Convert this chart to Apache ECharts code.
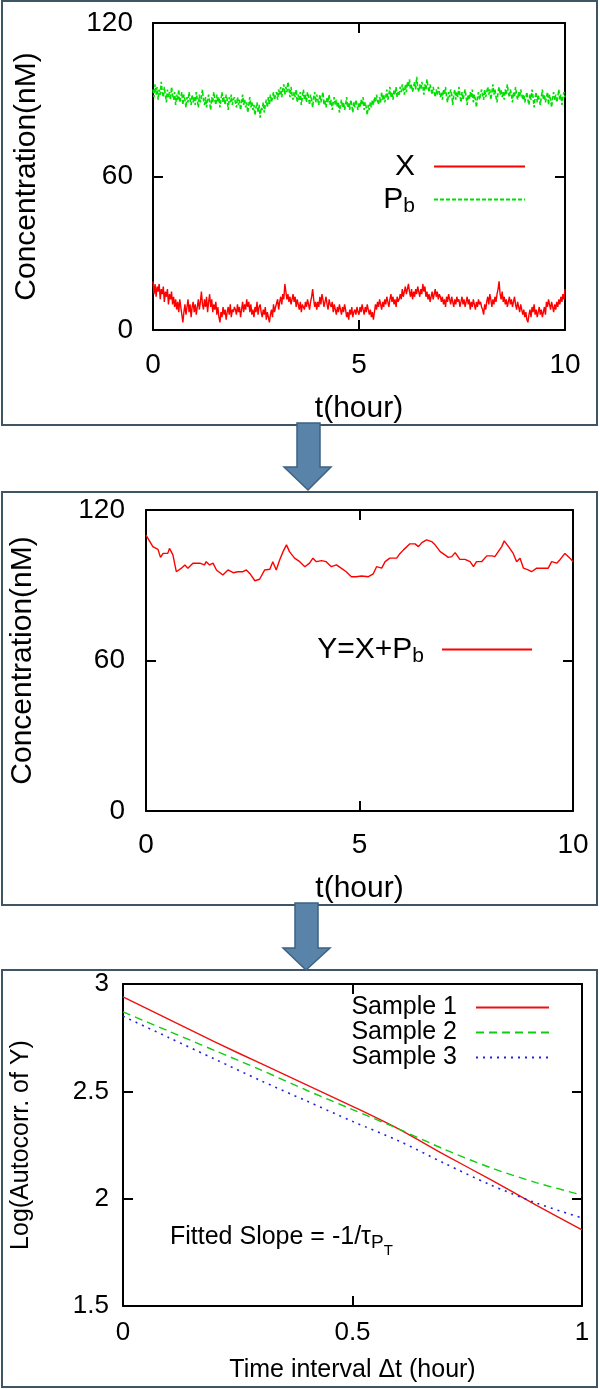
<!DOCTYPE html>
<html>
<head>
<meta charset="utf-8">
<title>Concentration and autocorrelation of Y</title>
<script src="https://cdn.jsdelivr.net/npm/echarts@6/dist/echarts.min.js"></script>
<style>
	html, body { margin: 0; padding: 0; background: #ffffff; }
	#main { width: 600px; height: 1389px; }
</style>
</head>
<body>
<div id="main"></div>
<script>
	// panel 1: X and Pb, one sample every 0.025 hour from 0 to 10 (one row per hour)
	var sampleStep = 0.025;
	var xValues = [
		19, 14, 18, 13, 17, 15, 18, 12, 16, 14, 17, 11, 15, 13, 16, 10, 14, 12, 15, 10, 13, 9, 12, 8, 11, 7, 12, 9, 6, 3, 7, 10, 6, 9, 12, 7, 10, 5, 9, 11,
		7, 10, 6, 9, 12, 8, 11, 15, 10, 8, 12, 9, 13, 7, 11, 14, 9, 12, 7, 10, 8, 11, 6, 9, 5, 3, 7, 5, 9, 6, 8, 4, 7, 9, 6, 10, 5, 8, 7, 9,
		8, 6, 10, 7, 9, 5, 8, 11, 7, 10, 8, 12, 9, 11, 7, 10, 6, 8, 5, 9, 7, 11, 6, 9, 10, 7, 5, 8, 6, 9, 4, 7, 5, 3, 6, 8, 5, 10, 7, 9,
		9, 12, 8, 11, 13, 10, 14, 12, 18, 15, 12, 14, 11, 13, 10, 12, 14, 11, 13, 9, 12, 10, 8, 11, 7, 10, 9, 8, 11, 9, 12, 10, 8, 11, 13, 16, 12, 9, 11, 8,
		11, 9, 13, 10, 14, 12, 9, 11, 13, 10, 8, 12, 10, 9, 11, 7, 10, 8, 6, 9, 7, 10, 8, 6, 9, 7, 10, 8, 5, 7, 4, 8, 6, 9, 5, 7, 8, 6, 9, 7,
		6, 9, 7, 10, 8, 6, 9, 7, 10, 8, 6, 8, 5, 7, 4, 7, 10, 8, 11, 9, 12, 10, 8, 11, 9, 12, 10, 13, 11, 9, 12, 14, 11, 13, 10, 12, 9, 13, 11, 12,
		14, 12, 16, 13, 15, 17, 14, 16, 18, 15, 13, 16, 12, 15, 13, 16, 14, 17, 15, 13, 16, 14, 18, 15, 17, 13, 15, 12, 14, 11, 13, 15, 12, 14, 16, 13, 15, 12, 14, 13,
		11, 13, 10, 12, 9, 13, 11, 14, 12, 10, 13, 11, 9, 12, 10, 13, 11, 12, 9, 11, 13, 10, 12, 9, 11, 13, 10, 12, 8, 11, 9, 12, 10, 8, 11, 9, 12, 10, 11, 9,
		8, 6, 10, 8, 11, 13, 10, 14, 12, 9, 12, 10, 13, 11, 14, 16, 19, 14, 12, 15, 11, 13, 10, 12, 9, 11, 13, 10, 12, 9, 11, 13, 10, 8, 11, 9, 7, 10, 8, 6,
		8, 5, 7, 4, 3, 6, 8, 5, 9, 7, 10, 6, 8, 5, 7, 9, 6, 8, 5, 7, 9, 6, 11, 9, 12, 10, 8, 11, 9, 7, 10, 8, 11, 9, 12, 10, 13, 11, 14, 12,
		16
	];
	var pbValues = [
		94, 91, 96, 92, 95, 90, 94, 92, 97, 93, 91, 95, 92, 89, 94, 91, 93, 90, 95, 92, 90, 93, 88, 92, 90, 94, 89, 91, 93, 88, 92, 90, 87, 91, 89, 93, 90, 88, 92, 89,
		91, 88, 93, 90, 87, 92, 89, 91, 94, 90, 88, 91, 87, 90, 92, 89, 86, 91, 89, 93, 90, 88, 92, 89, 91, 87, 90, 93, 89, 91, 88, 92, 90, 86, 91, 89, 92, 88, 90, 91,
		89, 87, 91, 88, 90, 86, 89, 92, 88, 90, 87, 89, 85, 88, 91, 87, 89, 86, 88, 84, 87, 89, 85, 88, 83, 87, 86, 89, 85, 88, 90, 87, 91, 88, 92, 89, 91, 93, 90, 92,
		93, 90, 94, 92, 95, 91, 94, 96, 92, 95, 93, 97, 94, 91, 95, 92, 90, 93, 91, 94, 89, 92, 90, 93, 88, 91, 94, 90, 92, 89, 93, 91, 88, 92, 90, 87, 91, 93, 89, 92,
		90, 88, 92, 89, 91, 93, 88, 90, 87, 91, 89, 92, 88, 90, 86, 89, 91, 88, 90, 87, 89, 85, 88, 90, 87, 89, 86, 88, 91, 87, 89, 86, 90, 88, 85, 89, 87, 90, 88, 86,
		89, 87, 90, 88, 91, 86, 89, 87, 84, 88, 86, 89, 87, 90, 88, 91, 89, 92, 90, 88, 91, 89, 93, 90, 92, 89, 91, 94, 90, 92, 95, 91, 93, 90, 94, 92, 95, 91, 93, 92,
		95, 93, 96, 94, 92, 96, 93, 97, 95, 98, 94, 96, 93, 95, 97, 94, 99, 95, 93, 96, 94, 97, 95, 92, 96, 94, 98, 95, 93, 96, 94, 92, 95, 93, 91, 94, 92, 95, 93, 91,
		93, 90, 94, 92, 95, 91, 89, 93, 91, 94, 92, 88, 92, 94, 90, 93, 91, 95, 92, 89, 93, 90, 92, 94, 91, 88, 92, 90, 93, 91, 94, 89, 92, 90, 87, 91, 93, 90, 92, 94,
		92, 90, 94, 91, 93, 95, 92, 94, 90, 93, 96, 92, 94, 91, 89, 93, 95, 92, 94, 91, 93, 90, 94, 92, 96, 93, 91, 94, 92, 89, 93, 91, 95, 92, 90, 93, 91, 94, 92, 90,
		92, 89, 91, 93, 90, 88, 92, 90, 94, 91, 87, 91, 93, 89, 92, 90, 88, 91, 94, 90, 92, 89, 91, 93, 88, 92, 90, 87, 91, 93, 90, 92, 89, 91, 94, 90, 92, 88, 91, 93,
		91
	];

	// panel 2: Y = X + Pb
	var yTimes = [
		0, 0.16, 0.28, 0.34, 0.40, 0.51, 0.55, 0.63, 0.71, 0.83, 0.91, 0.98,
		1.10, 1.26, 1.37, 1.41, 1.49, 1.57, 1.65, 1.80, 1.92,
		2.04, 2.15, 2.27, 2.35, 2.43, 2.55, 2.66, 2.78, 2.90, 2.97,
		3.05, 3.13, 3.21, 3.29, 3.36, 3.48, 3.60, 3.72, 3.83, 3.91, 3.99,
		4.11, 4.22, 4.34, 4.46, 4.57, 4.69, 4.81, 4.92,
		5.05, 5.21, 5.32, 5.40, 5.52, 5.60, 5.71, 5.87, 5.95,
		6.03, 6.18, 6.30, 6.38, 6.46, 6.57, 6.69, 6.77, 6.89,
		7.00, 7.08, 7.16, 7.24, 7.35, 7.47, 7.59, 7.67, 7.74, 7.86, 7.98,
		8.10, 8.17, 8.25, 8.33, 8.39, 8.49, 8.60, 8.68, 8.76, 8.84, 8.95,
		9.03, 9.15, 9.30, 9.42, 9.50, 9.62, 9.70, 9.81, 9.93, 10
	];
	var yValues = [
		110.0, 105.4, 104.3, 101.1, 102.7, 102.7, 104.7, 102.1, 95.4, 96.8, 98.1, 96.8,
		98.8, 98.8, 98.1, 99.4, 98.1, 98.8, 96.1, 94.1, 96.1,
		95.0, 95.4, 95.4, 96.1, 94.7, 91.8, 92.4, 96.1, 96.4, 99.4,
		96.1, 100.1, 103.4, 106.1, 103.4, 100.8, 99.4, 97.4, 98.8, 100.8, 99.4,
		99.8, 99.4, 97.4, 98.1, 96.8, 95.4, 93.4, 93.4,
		93.7, 93.4, 94.5, 97.4, 96.8, 99.4, 100.8, 100.8, 102.7,
		104.1, 106.5, 106.5, 105.4, 107.0, 108.1, 107.4, 106.1, 103.4,
		102.1, 101.1, 101.4, 103.0, 100.3, 100.3, 99.4, 97.4, 99.4, 99.4, 101.7,
		101.7, 101.4, 103.4, 105.4, 107.7, 105.4, 102.7, 99.4, 100.8, 96.8, 96.1,
		95.4, 96.8, 96.8, 96.8, 99.4, 98.8, 100.3, 102.7, 100.8, 99.4
	];

	// panel 3: log of the autocorrelation of Y
	var lagTimes = [0, 0.1, 0.2, 0.3, 0.4, 0.5, 0.6, 0.7, 0.8, 0.9, 1];
	var sample1 = [2.94, 2.835, 2.73, 2.63, 2.53, 2.43, 2.325, 2.205, 2.09, 1.97, 1.855];
	var sample2 = [2.87, 2.78, 2.69, 2.60, 2.505, 2.415, 2.325, 2.23, 2.145, 2.075, 2.017];
	var sample3 = [2.85, 2.75, 2.65, 2.55, 2.455, 2.36, 2.27, 2.165, 2.065, 1.98, 1.91];

	var fontName = '"Liberation Sans", Arial, sans-serif';

	function pairs(xs, ys) {
		var out = [];
		for (var i = 0; i < ys.length; i++) {
			out.push([xs[i], ys[i]]);
		}
		return out;
	}

	function evenPairs(ys, step) {
		var out = [];
		for (var i = 0; i < ys.length; i++) {
			out.push([Math.round(i * step * 1000) / 1000, ys[i]]);
		}
		return out;
	}

	// one bottom/left axis with labels, one top/right mirror with ticks only
	function xAxes(grid, min, max, interval, name, labelSize, nameSize, labelMargin, nameGap) {
		var base = {
			gridIndex: grid,
			type: 'value',
			min: min,
			max: max,
			interval: interval,
			splitLine: { show: false },
			axisLine: { show: true, onZero: false, lineStyle: { color: '#000', width: 2 } },
			axisTick: { show: true, inside: true, length: 10, lineStyle: { color: '#000', width: 2 } }
		};
		var bottom = Object.assign({}, base, {
			position: 'bottom',
			name: name,
			nameLocation: 'middle',
			nameGap: nameGap,
			nameTextStyle: { color: '#000', fontSize: nameSize, fontFamily: fontName },
			axisLabel: { color: '#000', fontSize: labelSize, fontFamily: fontName, margin: labelMargin }
		});
		var top = Object.assign({}, base, {
			position: 'top',
			axisLabel: { show: false }
		});
		return [bottom, top];
	}

	function yAxes(grid, min, max, interval, name, labelSize, nameSize, labelMargin, nameGap) {
		var base = {
			gridIndex: grid,
			type: 'value',
			min: min,
			max: max,
			interval: interval,
			splitLine: { show: false },
			axisLine: { show: true, onZero: false, lineStyle: { color: '#000', width: 2 } },
			axisTick: { show: true, inside: true, length: 10, lineStyle: { color: '#000', width: 2 } }
		};
		var left = Object.assign({}, base, {
			position: 'left',
			name: name,
			nameLocation: 'middle',
			nameGap: nameGap,
			nameTextStyle: { color: '#000', fontSize: nameSize, fontFamily: fontName },
			axisLabel: { color: '#000', fontSize: labelSize, fontFamily: fontName, margin: labelMargin }
		});
		var right = Object.assign({}, base, {
			position: 'right',
			axisLabel: { show: false }
		});
		return [left, right];
	}

	function subName(name) {
		if (name === 'Pb') return 'P{s|b}';
		if (name === 'Y=X+Pb') return 'Y=X+P{s|b}';
		return name;
	}

	var x1 = xAxes(0, 0, 10, 5, 't(hour)', 28, 30, 21, 64);
	var x2 = xAxes(1, 0, 10, 5, 't(hour)', 28, 30, 20, 63);
	var x3 = xAxes(2, 0, 1, 0.5, 'Time interval \u0394t (hour)', 26, 25, 14, 52);
	var y1 = yAxes(0, 0, 120, 60, 'Concentration(nM)', 28, 30, 20, 111);
	var y2 = yAxes(1, 0, 120, 60, 'Concentration(nM)', 28, 30, 21, 108);
	var y3 = yAxes(2, 1.5, 3, 0.5, 'Log(Autocorr. of Y)', 26, 25, 14, 89);

	// the circle marker of the line legend icon is hidden, only the line stays
	var legendBase = {
		orient: 'vertical',
		align: 'right',
		padding: 0,
		itemGap: 0,
		selectedMode: false,
		formatter: subName,
		itemStyle: { opacity: 0 }
	};

	var myChart = echarts.init(document.getElementById('main'));
	myChart.setOption({
		animation: false,
		backgroundColor: '#ffffff',
		grid: [
			{ left: 153, top: 23, width: 412, height: 307 },
			{ left: 146, top: 510, width: 427, height: 301 },
			{ left: 123, top: 984, width: 459, height: 322 }
		],
		xAxis: x1.concat(x2, x3),
		yAxis: y1.concat(y2, y3),
		legend: [
			Object.assign({}, legendBase, {
				data: ['X', 'Pb'],
				right: 74,
				top: 151,
				itemWidth: 91,
				itemHeight: 14,
				textStyle: {
					color: '#000', fontSize: 30, fontFamily: fontName, lineHeight: 31,
					padding: [0, 14, 0, 0],
					rich: { s: { fontSize: 21, fontFamily: fontName, lineHeight: 21, padding: [14, 0, 0, 0] } }
				}
			}),
			Object.assign({}, legendBase, {
				data: ['Y=X+Pb'],
				right: 67,
				top: 632,
				itemWidth: 90,
				itemHeight: 14,
				textStyle: {
					color: '#000', fontSize: 30, fontFamily: fontName, lineHeight: 31,
					padding: [0, 13, 0, 0],
					rich: { s: { fontSize: 21, fontFamily: fontName, lineHeight: 21, padding: [14, 0, 0, 0] } }
				}
			}),
			Object.assign({}, legendBase, {
				data: ['Sample 1', 'Sample 2', 'Sample 3'],
				right: 50,
				top: 995,
				itemWidth: 73,
				itemHeight: 12,
				textStyle: {
					color: '#000', fontSize: 25, fontFamily: fontName, lineHeight: 25,
					padding: [0, 14, 0, 0]
				}
			})
		],
		series: [
			{
				name: 'X', type: 'line', xAxisIndex: 0, yAxisIndex: 0,
				symbol: 'none', color: '#ff0000',
				lineStyle: { color: '#ff0000', width: 1.4 },
				data: evenPairs(xValues, sampleStep)
			},
			{
				name: 'Pb', type: 'line', xAxisIndex: 0, yAxisIndex: 0,
				symbol: 'none', color: '#00e000',
				lineStyle: { color: '#00e000', width: 1.6, type: [4, 2] },
				data: evenPairs(pbValues, sampleStep)
			},
			{
				name: 'Y=X+Pb', type: 'line', xAxisIndex: 2, yAxisIndex: 2,
				symbol: 'none', color: '#ff0000',
				lineStyle: { color: '#ff0000', width: 1.4 },
				data: pairs(yTimes, yValues)
			},
			{
				name: 'Sample 1', type: 'line', xAxisIndex: 4, yAxisIndex: 4,
				symbol: 'none', color: '#ee1111', smooth: 0.3,
				lineStyle: { color: '#ee1111', width: 1.4 },
				data: pairs(lagTimes, sample1)
			},
			{
				name: 'Sample 2', type: 'line', xAxisIndex: 4, yAxisIndex: 4,
				symbol: 'none', color: '#11cc11', smooth: 0.3,
				lineStyle: { color: '#11cc11', width: 1.4, type: [8, 5] },
				data: pairs(lagTimes, sample2)
			},
			{
				name: 'Sample 3', type: 'line', xAxisIndex: 4, yAxisIndex: 4,
				symbol: 'none', color: '#2222dd', smooth: 0.3,
				lineStyle: { color: '#2222dd', width: 1.6, type: [2, 5] },
				data: pairs(lagTimes, sample3)
			}
		],
		graphic: [
			// panel frames
			{ type: 'rect', z: 1, shape: { x: 2, y: 1, width: 595, height: 424 },
				style: { fill: 'none', stroke: '#3e5565', lineWidth: 2 } },
			{ type: 'rect', z: 1, shape: { x: 2, y: 492, width: 595, height: 413 },
				style: { fill: 'none', stroke: '#3e5565', lineWidth: 2 } },
			{ type: 'rect', z: 1, shape: { x: 2, y: 970, width: 595, height: 417 },
				style: { fill: 'none', stroke: '#3e5565', lineWidth: 2 } },
			// arrows between the panels
			{ type: 'polygon', z: 5,
				shape: { points: [[297, 423], [320, 423], [320, 467], [331, 467], [308, 490], [284, 467], [297, 467]] },
				style: { fill: '#5a83aa', stroke: '#3d6282', lineWidth: 1.5 } },
			{ type: 'polygon', z: 5,
				shape: { points: [[295, 903], [318, 903], [318, 948], [330, 948], [306, 970], [283, 948], [295, 948]] },
				style: { fill: '#5a83aa', stroke: '#3d6282', lineWidth: 1.5 } },
			// fitted slope note
			{ type: 'text', z: 5, x: 170, y: 1237,
				style: {
					text: 'Fitted Slope = -1/\u03c4{p|P}{t|T}',
					fill: '#000',
					font: '25px ' + fontName,
					verticalAlign: 'middle',
					rich: {
						p: { fontSize: 19, fontFamily: fontName, lineHeight: 19, padding: [12, 0, 0, 0] },
						t: { fontSize: 15, fontFamily: fontName, lineHeight: 15, padding: [28, 0, 0, 0] }
					}
				} }
		]
	});
</script>
</body>
</html>
